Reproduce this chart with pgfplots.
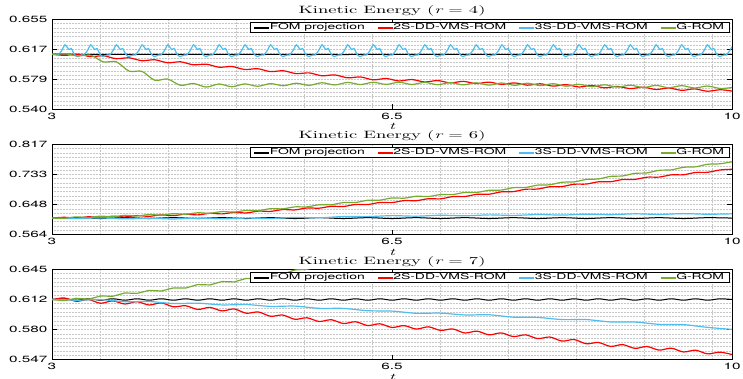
\documentclass[border=0pt]{standalone}
\usepackage{pgfplots}
\pgfplotsset{compat=1.18}
\usepackage{fontspec}
\newfontfamily\tickfont{TeX Gyre Heros}[FakeStretch=1.7]
\newfontfamily\titlefont{lmroman10-regular.otf}[FakeStretch=1.75]
\newfontfamily\titleit{lmroman10-italic.otf}[FakeStretch=1.75]
\definecolor{cblue}{RGB}{77,190,238}
\definecolor{cgreen}{RGB}{119,172,48}
\pgfplotsset{
  kep/.style={
    scale only axis, width=680pt, height=90.2pt, anchor=north west,
    xmin=3, xmax=10, xtick={3,6.5,10}, xticklabels={3,6.5,10},
    minor xtick={3.5,4.2,4.9,5.6,6.3,7.0,7.7,8.4,9.1,9.8},
    xminorgrids, yminorgrids,
    minor grid style={black!22, line width=0.45pt, dash pattern=on 0.5pt off 1pt},
    tick align=inside, major tick length=5pt, minor tick length=0pt,
    axis line style={black, line width=0.5pt},
    every tick/.style={black, line width=0.5pt},
    ticklabel style={font=\fontsize{9}{10}\tickfont},
    xticklabel style={yshift=-0.5pt},
    yticklabel style={xshift=-1pt},
    xlabel={\fontsize{10}{11}\titleit t},
    xlabel style={at={(axis description cs:0.5,0)}, anchor=base, yshift=-20.5pt},
    every axis title shift=0pt,
    title style={at={(axis description cs:0.5,1)}, anchor=base, yshift=5.3pt, font=\fontsize{10.6}{12}\titlefont},
    legend columns=4,
    legend style={at={(axis description cs:1,1)}, anchor=north east, xshift=-2.7pt, yshift=-2.9pt,
      font=\fontsize{8.2}{9}\tickfont, draw=black, fill=white, line width=0.5pt, inner xsep=4pt, inner ysep=0.5pt,
      nodes={inner xsep=1pt, inner ysep=0.6pt},
      /tikz/every even column/.append style={column sep=12pt}},
    clip=true,
  },
  fom/.style={black, line width=1pt, no markers},
  tws/.style={red, line width=1.2pt, no markers},
  ths/.style={cblue, line width=1.2pt, no markers},
  grom/.style={cgreen, line width=1.2pt, no markers},
}
\newcommand{\legimages}{%
  \addlegendimage{legend image code/.code={\fill[black] (0pt,-0.4pt) rectangle (14pt,0.4pt);}}
  \addlegendimage{legend image code/.code={\fill[red] (0pt,-0.5pt) rectangle (14pt,0.5pt);}}
  \addlegendimage{legend image code/.code={\fill[cblue] (0pt,-0.5pt) rectangle (14pt,0.5pt);}}
  \addlegendimage{legend image code/.code={\fill[cgreen] (0pt,-0.5pt) rectangle (14pt,0.5pt);}}}
\begin{document}
\begin{tikzpicture}
% ---------------- r = 4 ----------------
\begin{axis}[kep, at={(52pt,-19.3pt)}, ymin=0.540, ymax=0.655,
  ytick={0.540,0.57833,0.61667,0.655}, yticklabels={0.540,0.579,0.617,0.655},
  minor ytick={0.540,0.545476,...,0.656},
  title={Kinetic Energy ({\titleit r} = 4)}]
\legimages
\addplot[fom, forget plot] coordinates {(3,0.6105)(4,0.6102)(5,0.6104)(6,0.6101)(7,0.6104)(8,0.6102)(9,0.6104)(10,0.6102)};
\addplot[tws, smooth, tension=0.5, forget plot] coordinates {
(3.000,0.6105)(3.132,0.6090)(3.265,0.6106)(3.397,0.6074)(3.529,0.6085)(3.661,0.6048)(3.794,0.6059)(3.926,0.6022)
(4.058,0.6034)(4.191,0.5996)(4.323,0.6008)(4.455,0.5970)(4.588,0.5978)(4.720,0.5939)(4.852,0.5948)(4.984,0.5910)
(5.117,0.5920)(5.249,0.5883)(5.381,0.5894)(5.514,0.5857)(5.646,0.5867)(5.778,0.5830)(5.911,0.5841)(6.043,0.5804)
(6.175,0.5815)(6.307,0.5778)(6.440,0.5795)(6.572,0.5764)(6.704,0.5782)(6.837,0.5751)(6.969,0.5769)(7.101,0.5739)
(7.234,0.5759)(7.366,0.5730)(7.498,0.5749)(7.630,0.5721)(7.763,0.5739)(7.895,0.5710)(8.027,0.5728)(8.160,0.5698)
(8.292,0.5717)(8.424,0.5687)(8.557,0.5706)(8.689,0.5676)(8.821,0.5695)(8.953,0.5666)(9.086,0.5685)(9.218,0.5655)
(9.350,0.5674)(9.483,0.5644)(9.615,0.5663)(9.747,0.5633)(9.880,0.5652)(10.000,0.5635)};
\addplot[ths, smooth, tension=0.3, forget plot] coordinates {
(3.000,0.6105)
(3.064,0.6095)(3.099,0.6150)(3.134,0.6225)(3.174,0.6165)(3.199,0.6178)(3.229,0.6105)(3.259,0.6075)(3.304,0.6095)
(3.329,0.6095)(3.364,0.6150)(3.399,0.6225)(3.439,0.6165)(3.464,0.6178)(3.494,0.6105)(3.524,0.6075)(3.569,0.6095)
(3.593,0.6095)(3.628,0.6150)(3.663,0.6225)(3.703,0.6165)(3.728,0.6178)(3.758,0.6105)(3.788,0.6075)(3.833,0.6095)
(3.858,0.6095)(3.893,0.6150)(3.928,0.6225)(3.968,0.6165)(3.993,0.6178)(4.023,0.6105)(4.053,0.6075)(4.098,0.6095)
(4.122,0.6095)(4.157,0.6150)(4.192,0.6225)(4.232,0.6165)(4.257,0.6178)(4.287,0.6105)(4.317,0.6075)(4.362,0.6095)
(4.387,0.6095)(4.422,0.6150)(4.457,0.6225)(4.497,0.6165)(4.522,0.6178)(4.552,0.6105)(4.582,0.6075)(4.627,0.6095)
(4.651,0.6095)(4.686,0.6150)(4.721,0.6225)(4.761,0.6165)(4.786,0.6178)(4.816,0.6105)(4.846,0.6075)(4.891,0.6095)
(4.916,0.6095)(4.951,0.6150)(4.986,0.6225)(5.026,0.6165)(5.051,0.6178)(5.081,0.6105)(5.111,0.6075)(5.156,0.6095)
(5.180,0.6095)(5.215,0.6150)(5.250,0.6225)(5.290,0.6165)(5.315,0.6178)(5.345,0.6105)(5.375,0.6075)(5.420,0.6095)
(5.445,0.6095)(5.480,0.6150)(5.515,0.6225)(5.555,0.6165)(5.580,0.6178)(5.610,0.6105)(5.640,0.6075)(5.685,0.6095)
(5.709,0.6095)(5.744,0.6150)(5.779,0.6225)(5.819,0.6165)(5.844,0.6178)(5.874,0.6105)(5.904,0.6075)(5.949,0.6095)
(5.974,0.6095)(6.009,0.6150)(6.044,0.6225)(6.084,0.6165)(6.109,0.6178)(6.139,0.6105)(6.169,0.6075)(6.214,0.6095)
(6.238,0.6095)(6.273,0.6150)(6.308,0.6225)(6.348,0.6165)(6.373,0.6178)(6.403,0.6105)(6.433,0.6075)(6.478,0.6095)
(6.503,0.6095)(6.538,0.6150)(6.573,0.6225)(6.613,0.6165)(6.638,0.6178)(6.668,0.6105)(6.698,0.6075)(6.743,0.6095)
(6.767,0.6095)(6.802,0.6150)(6.837,0.6225)(6.877,0.6165)(6.902,0.6178)(6.932,0.6105)(6.962,0.6075)(7.007,0.6095)
(7.032,0.6095)(7.067,0.6150)(7.102,0.6225)(7.142,0.6165)(7.167,0.6178)(7.197,0.6105)(7.227,0.6075)(7.272,0.6095)
(7.296,0.6095)(7.331,0.6150)(7.366,0.6225)(7.406,0.6165)(7.431,0.6178)(7.461,0.6105)(7.491,0.6075)(7.536,0.6095)
(7.561,0.6095)(7.596,0.6150)(7.631,0.6225)(7.671,0.6165)(7.696,0.6178)(7.726,0.6105)(7.756,0.6075)(7.801,0.6095)
(7.825,0.6095)(7.860,0.6150)(7.895,0.6225)(7.935,0.6165)(7.960,0.6178)(7.990,0.6105)(8.020,0.6075)(8.065,0.6095)
(8.090,0.6095)(8.125,0.6150)(8.160,0.6225)(8.200,0.6165)(8.225,0.6178)(8.255,0.6105)(8.285,0.6075)(8.330,0.6095)
(8.354,0.6095)(8.389,0.6150)(8.424,0.6225)(8.464,0.6165)(8.489,0.6178)(8.519,0.6105)(8.549,0.6075)(8.594,0.6095)
(8.619,0.6095)(8.654,0.6150)(8.689,0.6225)(8.729,0.6165)(8.754,0.6178)(8.784,0.6105)(8.814,0.6075)(8.859,0.6095)
(8.883,0.6095)(8.918,0.6150)(8.953,0.6225)(8.993,0.6165)(9.018,0.6178)(9.048,0.6105)(9.078,0.6075)(9.123,0.6095)
(9.148,0.6095)(9.183,0.6150)(9.218,0.6225)(9.258,0.6165)(9.283,0.6178)(9.313,0.6105)(9.343,0.6075)(9.388,0.6095)
(9.412,0.6095)(9.447,0.6150)(9.482,0.6225)(9.522,0.6165)(9.547,0.6178)(9.577,0.6105)(9.607,0.6075)(9.652,0.6095)
(9.677,0.6095)(9.712,0.6150)(9.747,0.6225)(9.787,0.6165)(9.812,0.6178)(9.842,0.6105)(9.872,0.6075)(9.917,0.6095)
(9.941,0.6095)(9.976,0.6150)(10.000,0.6200)};
\addplot[grom, smooth, tension=0.5, forget plot] coordinates {
(3.000,0.6105)(3.132,0.6111)(3.265,0.6082)(3.397,0.6093)(3.529,0.6007)(3.661,0.6009)(3.794,0.5889)(3.926,0.5886)
(4.058,0.5773)(4.191,0.5788)(4.323,0.5708)(4.455,0.5732)(4.588,0.5686)(4.720,0.5725)(4.852,0.5690)(4.984,0.5726)
(5.117,0.5696)(5.249,0.5730)(5.381,0.5703)(5.514,0.5735)(5.646,0.5708)(5.778,0.5741)(5.911,0.5713)(6.043,0.5745)
(6.175,0.5718)(6.307,0.5747)(6.440,0.5720)(6.572,0.5748)(6.704,0.5719)(6.837,0.5746)(6.969,0.5716)(7.101,0.5743)
(7.234,0.5714)(7.366,0.5740)(7.498,0.5711)(7.630,0.5738)(7.763,0.5708)(7.895,0.5735)(8.027,0.5705)(8.160,0.5729)
(8.292,0.5697)(8.424,0.5721)(8.557,0.5690)(8.689,0.5715)(8.821,0.5685)(8.953,0.5710)(9.086,0.5680)(9.218,0.5707)
(9.350,0.5677)(9.483,0.5704)(9.615,0.5674)(9.747,0.5699)(9.880,0.5668)(10.000,0.5680)};
\legend{FOM projection, 2S-DD-VMS-ROM, 3S-DD-VMS-ROM, G-ROM}
\end{axis}
% ---------------- r = 6 ----------------
\begin{axis}[kep, at={(52pt,-144.3pt)}, ymin=0.564, ymax=0.817,
  ytick={0.564,0.64833,0.73267,0.817}, yticklabels={0.564,0.648,0.733,0.817},
  minor ytick={0.564,0.576048,...,0.818},
  title={Kinetic Energy ({\titleit r} = 6)}]
\legimages
\addplot[fom, smooth, tension=0.5, forget plot] coordinates {
(3.00,0.6100)(3.25,0.6112)(3.50,0.6088)(3.75,0.6112)(4.00,0.6088)(4.25,0.6112)(4.50,0.6088)(4.75,0.6112)
(5.00,0.6088)(5.25,0.6112)(5.50,0.6088)(5.75,0.6112)(6.00,0.6088)(6.25,0.6112)(6.50,0.6088)(6.75,0.6112)
(7.00,0.6088)(7.25,0.6112)(7.50,0.6088)(7.75,0.6112)(8.00,0.6088)(8.25,0.6112)(8.50,0.6088)(8.75,0.6112)
(9.00,0.6088)(9.25,0.6112)(9.50,0.6088)(9.75,0.6112)(10.00,0.6100)};
\addplot[tws, smooth, tension=0.5, forget plot] coordinates {
(3.000,0.6100)(3.125,0.6123)(3.250,0.6100)(3.375,0.6138)(3.500,0.6115)(3.625,0.6154)(3.750,0.6133)(3.875,0.6171)
(4.000,0.6150)(4.125,0.6190)(4.250,0.6170)(4.375,0.6210)(4.500,0.6190)(4.625,0.6234)(4.750,0.6218)(4.875,0.6261)
(5.000,0.6245)(5.125,0.6296)(5.250,0.6288)(5.375,0.6339)(5.500,0.6330)(5.625,0.6384)(5.750,0.6378)(5.875,0.6431)
(6.000,0.6425)(6.125,0.6483)(6.250,0.6480)(6.375,0.6538)(6.500,0.6535)(6.625,0.6591)(6.750,0.6588)(6.875,0.6644)
(7.000,0.6640)(7.125,0.6703)(7.250,0.6705)(7.375,0.6768)(7.500,0.6770)(7.625,0.6836)(7.750,0.6843)(7.875,0.6909)
(8.000,0.6915)(8.125,0.6980)(8.250,0.6985)(8.375,0.7050)(8.500,0.7055)(8.625,0.7118)(8.750,0.7120)(8.875,0.7183)
(9.000,0.7185)(9.125,0.7248)(9.250,0.7250)(9.375,0.7313)(9.500,0.7315)(9.625,0.7380)(9.750,0.7385)(9.875,0.7450)
(10.000,0.7470)};
\addplot[ths, smooth, tension=0.5, forget plot] coordinates {
(3.00,0.6100)(3.25,0.6086)(3.50,0.6103)(3.75,0.6079)(4.00,0.6095)(4.25,0.6076)(4.50,0.6098)(4.75,0.6079)
(5.00,0.6100)(5.25,0.6089)(5.50,0.6119)(5.75,0.6108)(6.00,0.6144)(6.25,0.6142)(6.50,0.6169)(6.75,0.6154)
(7.00,0.6180)(7.25,0.6165)(7.50,0.6190)(7.75,0.6175)(8.00,0.6200)(8.25,0.6185)(8.50,0.6210)(8.75,0.6195)
(9.00,0.6220)(9.25,0.6203)(9.50,0.6225)(9.75,0.6208)(10.00,0.6220)};
\addplot[grom, smooth, tension=0.5, forget plot] coordinates {
(3.000,0.6100)(3.125,0.6095)(3.250,0.6135)(3.375,0.6115)(3.500,0.6155)(3.625,0.6136)(3.750,0.6178)(3.875,0.6159)
(4.000,0.6200)(4.125,0.6183)(4.250,0.6225)(4.375,0.6208)(4.500,0.6250)(4.625,0.6236)(4.750,0.6283)(4.875,0.6269)
(5.000,0.6315)(5.125,0.6310)(5.250,0.6365)(5.375,0.6360)(5.500,0.6415)(5.625,0.6415)(5.750,0.6475)(5.875,0.6475)
(6.000,0.6535)(6.125,0.6538)(6.250,0.6600)(6.375,0.6603)(6.500,0.6665)(6.625,0.6659)(6.750,0.6713)(6.875,0.6706)
(7.000,0.6760)(7.125,0.6760)(7.250,0.6820)(7.375,0.6820)(7.500,0.6880)(7.625,0.6886)(7.750,0.6953)(7.875,0.6959)
(8.000,0.7025)(8.125,0.7035)(8.250,0.7105)(8.375,0.7115)(8.500,0.7185)(8.625,0.7198)(8.750,0.7270)(8.875,0.7283)
(9.000,0.7355)(9.125,0.7368)(9.250,0.7440)(9.375,0.7453)(9.500,0.7525)(9.625,0.7538)(9.750,0.7610)(9.875,0.7623)
(10.000,0.7680)};
\legend{FOM projection, 2S-DD-VMS-ROM, 3S-DD-VMS-ROM, G-ROM}
\end{axis}
% ---------------- r = 7 ----------------
\begin{axis}[kep, at={(52pt,-269.3pt)}, ymin=0.547, ymax=0.645,
  ytick={0.547,0.57967,0.61233,0.645}, yticklabels={0.547,0.580,0.612,0.645},
  minor ytick={0.547,0.5516667,...,0.646},
  title={Kinetic Energy ({\titleit r} = 7)}]
\legimages
\addplot[fom, smooth, tension=0.5, forget plot] coordinates {
(3.000,0.6122)(3.125,0.6130)(3.250,0.6114)(3.375,0.6130)(3.500,0.6114)(3.625,0.6130)(3.750,0.6114)(3.875,0.6130)
(4.000,0.6114)(4.125,0.6130)(4.250,0.6114)(4.375,0.6130)(4.500,0.6114)(4.625,0.6130)(4.750,0.6114)(4.875,0.6130)
(5.000,0.6114)(5.125,0.6130)(5.250,0.6114)(5.375,0.6130)(5.500,0.6114)(5.625,0.6130)(5.750,0.6114)(5.875,0.6130)
(6.000,0.6114)(6.125,0.6130)(6.250,0.6114)(6.375,0.6130)(6.500,0.6114)(6.625,0.6130)(6.750,0.6114)(6.875,0.6130)
(7.000,0.6114)(7.125,0.6130)(7.250,0.6114)(7.375,0.6130)(7.500,0.6114)(7.625,0.6130)(7.750,0.6114)(7.875,0.6130)
(8.000,0.6114)(8.125,0.6130)(8.250,0.6114)(8.375,0.6130)(8.500,0.6114)(8.625,0.6130)(8.750,0.6114)(8.875,0.6130)
(9.000,0.6114)(9.125,0.6130)(9.250,0.6114)(9.375,0.6130)(9.500,0.6114)(9.625,0.6130)(9.750,0.6114)(9.875,0.6130)
(10.000,0.6122)};
\addplot[tws, smooth, tension=0.5, forget plot] coordinates {
(3.000,0.6120)(3.125,0.6139)(3.250,0.6102)(3.375,0.6121)(3.500,0.6081)(3.625,0.6107)(3.750,0.6073)(3.875,0.6098)
(4.000,0.6062)(4.125,0.6085)(4.250,0.6043)(4.375,0.6054)(4.500,0.6014)(4.625,0.6036)(4.750,0.5998)(4.875,0.6019)
(5.000,0.5973)(5.125,0.5986)(5.250,0.5940)(5.375,0.5953)(5.500,0.5907)(5.625,0.5923)(5.750,0.5883)(5.875,0.5902)
(6.000,0.5861)(6.125,0.5880)(6.250,0.5839)(6.375,0.5858)(6.500,0.5818)(6.625,0.5838)(6.750,0.5801)(6.875,0.5825)
(7.000,0.5786)(7.125,0.5802)(7.250,0.5758)(7.375,0.5778)(7.500,0.5738)(7.625,0.5759)(7.750,0.5719)(7.875,0.5738)
(8.000,0.5697)(8.125,0.5714)(8.250,0.5670)(8.375,0.5687)(8.500,0.5641)(8.625,0.5655)(8.750,0.5612)(8.875,0.5632)
(9.000,0.5591)(9.125,0.5611)(9.250,0.5572)(9.375,0.5593)(9.500,0.5552)(9.625,0.5571)(9.750,0.5531)(9.875,0.5550)
(10.000,0.5524)};
\addplot[ths, smooth, tension=0.5, forget plot] coordinates {
(3.00,0.6125)(3.25,0.6114)(3.50,0.6121)(3.75,0.6098)(4.00,0.6100)(4.25,0.6078)(4.50,0.6082)(4.75,0.6063)
(5.00,0.6067)(5.25,0.6047)(5.50,0.6050)(5.75,0.6026)(6.00,0.6025)(6.25,0.6000)(6.50,0.5996)(6.75,0.5972)
(7.00,0.5974)(7.25,0.5954)(7.50,0.5956)(7.75,0.5930)(8.00,0.5927)(8.25,0.5904)(8.50,0.5904)(8.75,0.5878)
(9.00,0.5877)(9.25,0.5852)(9.50,0.5849)(9.75,0.5819)(10.00,0.5797)};
\addplot[grom, forget plot] coordinates {
(3.000,0.6120)(3.125,0.6110)(3.250,0.6135)(3.375,0.6125)(3.500,0.6160)(3.625,0.6157)(3.750,0.6193)(3.875,0.6188)
(4.000,0.6221)(4.125,0.6214)(4.250,0.6248)(4.375,0.6246)(4.500,0.6284)(4.625,0.6280)(4.750,0.6317)(4.875,0.6313)
(5.000,0.6351)(5.125,0.6346)(5.250,0.6383)(5.375,0.6397)(5.500,0.6443)(5.625,0.6450)(5.750,0.6482)(6.000,0.6510)
(6.500,0.6580)(7.000,0.6650)(7.500,0.6720)(8.500,0.6900)(10.000,0.7200)};
\legend{FOM projection, 2S-DD-VMS-ROM, 3S-DD-VMS-ROM, G-ROM}
\end{axis}
\pgfresetboundingbox
\path (0pt,0pt) rectangle (743pt,-379pt);
\end{tikzpicture}
\end{document}
